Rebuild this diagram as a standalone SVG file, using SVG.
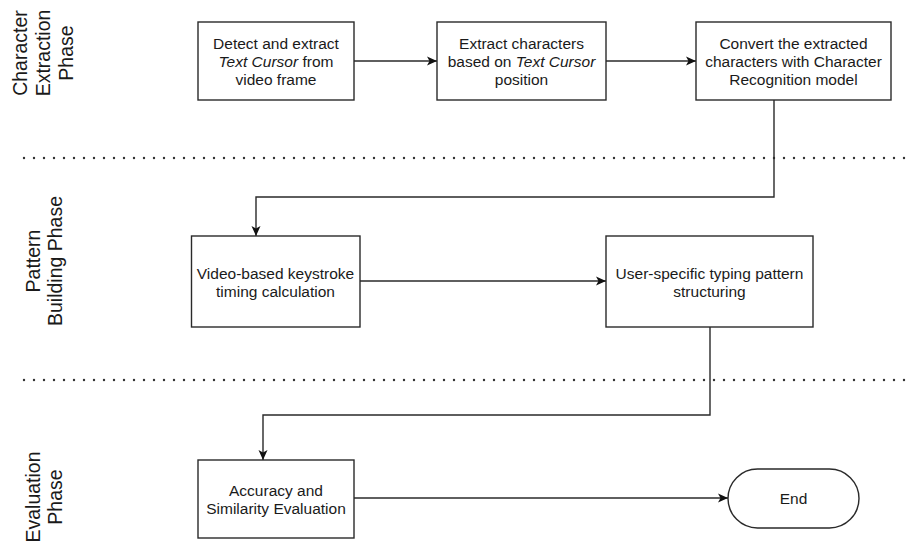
<svg xmlns="http://www.w3.org/2000/svg" width="908" height="541" viewBox="0 0 908 541">
<style>
.box{fill:#fff;stroke:#2a2a2a;stroke-width:1.4}
.t{font-family:"Liberation Sans",Arial,sans-serif;font-size:15.5px;fill:#1a1a1a;text-anchor:middle}
.ph{font-family:"Liberation Sans",Arial,sans-serif;font-size:19.5px;fill:#1a1a1a;text-anchor:middle}
.c{fill:none;stroke:#2a2a2a;stroke-width:1.4}
.dot{fill:none;stroke:#333;stroke-width:2.4;stroke-linecap:round;stroke-dasharray:0 10}
i{font-style:italic}
</style>
<defs>
<marker id="ah" viewBox="0 0 10 10" refX="10" refY="5" markerWidth="10" markerHeight="10" markerUnits="userSpaceOnUse" orient="auto">
<path d="M0,0.5 L10,5 L0,9.5 L2.5,5 z" fill="#111"/>
</marker>
</defs>
<rect width="908" height="541" fill="#fff"/>

<g id="separators">
<line class="dot" x1="24" y1="158" x2="908" y2="158"/>
<line class="dot" x1="24" y1="380" x2="908" y2="380"/>
</g>

<g id="phase-labels">
<text class="ph" transform="rotate(-90)" x="-53" y="27">Character</text>
<text class="ph" transform="rotate(-90)" x="-53" y="50">Extraction</text>
<text class="ph" transform="rotate(-90)" x="-53" y="73">Phase</text>
<text class="ph" transform="rotate(-90)" x="-261" y="40">Pattern</text>
<text class="ph" transform="rotate(-90)" x="-261" y="62">Building Phase</text>
<text class="ph" transform="rotate(-90)" x="-497" y="40">Evaluation</text>
<text class="ph" transform="rotate(-90)" x="-497" y="62">Phase</text>
</g>

<g id="connectors">
<line class="c" x1="354" y1="61" x2="437" y2="61" marker-end="url(#ah)"/>
<line class="c" x1="606" y1="61" x2="696" y2="61" marker-end="url(#ah)"/>
<polyline class="c" points="774,100 774,197 256,197 256,236" marker-end="url(#ah)"/>
<line class="c" x1="360" y1="281" x2="606" y2="281" marker-end="url(#ah)"/>
<polyline class="c" points="710,327 710,415 263,415 263,460" marker-end="url(#ah)"/>
<line class="c" x1="354" y1="498" x2="728" y2="498" marker-end="url(#ah)"/>
</g>

<g id="n1">
<rect class="box" x="198" y="22" width="156" height="78"/>
<text class="t" x="276" y="49">Detect and extract</text>
<text class="t" x="276" y="67"><tspan font-style="italic">Text Cursor</tspan> from</text>
<text class="t" x="276" y="85">video frame</text>
</g>
<g id="n2">
<rect class="box" x="437" y="22" width="169" height="78"/>
<text class="t" x="521.5" y="49">Extract characters</text>
<text class="t" x="521.5" y="67">based on <tspan font-style="italic">Text Cursor</tspan></text>
<text class="t" x="521.5" y="85">position</text>
</g>
<g id="n3">
<rect class="box" x="696" y="22" width="195" height="78"/>
<text class="t" x="793.5" y="49">Convert the extracted</text>
<text class="t" x="793.5" y="67">characters with Character</text>
<text class="t" x="793.5" y="85">Recognition model</text>
</g>
<g id="n4">
<rect class="box" x="191.5" y="236" width="168.5" height="91"/>
<text class="t" x="275.5" y="279">Video-based keystroke</text>
<text class="t" x="275.5" y="297">timing calculation</text>
</g>
<g id="n5">
<rect class="box" x="606" y="236" width="207" height="91"/>
<text class="t" x="709.5" y="279">User-specific typing pattern</text>
<text class="t" x="709.5" y="297">structuring</text>
</g>
<g id="n6">
<rect class="box" x="198" y="460" width="156" height="78"/>
<text class="t" x="276" y="496">Accuracy and</text>
<text class="t" x="276" y="514">Similarity Evaluation</text>
</g>
<g id="end">
<rect class="box" x="728" y="469" width="131" height="59" rx="29.5" ry="29.5"/>
<text class="t" x="793.5" y="504">End</text>
</g>
</svg>
